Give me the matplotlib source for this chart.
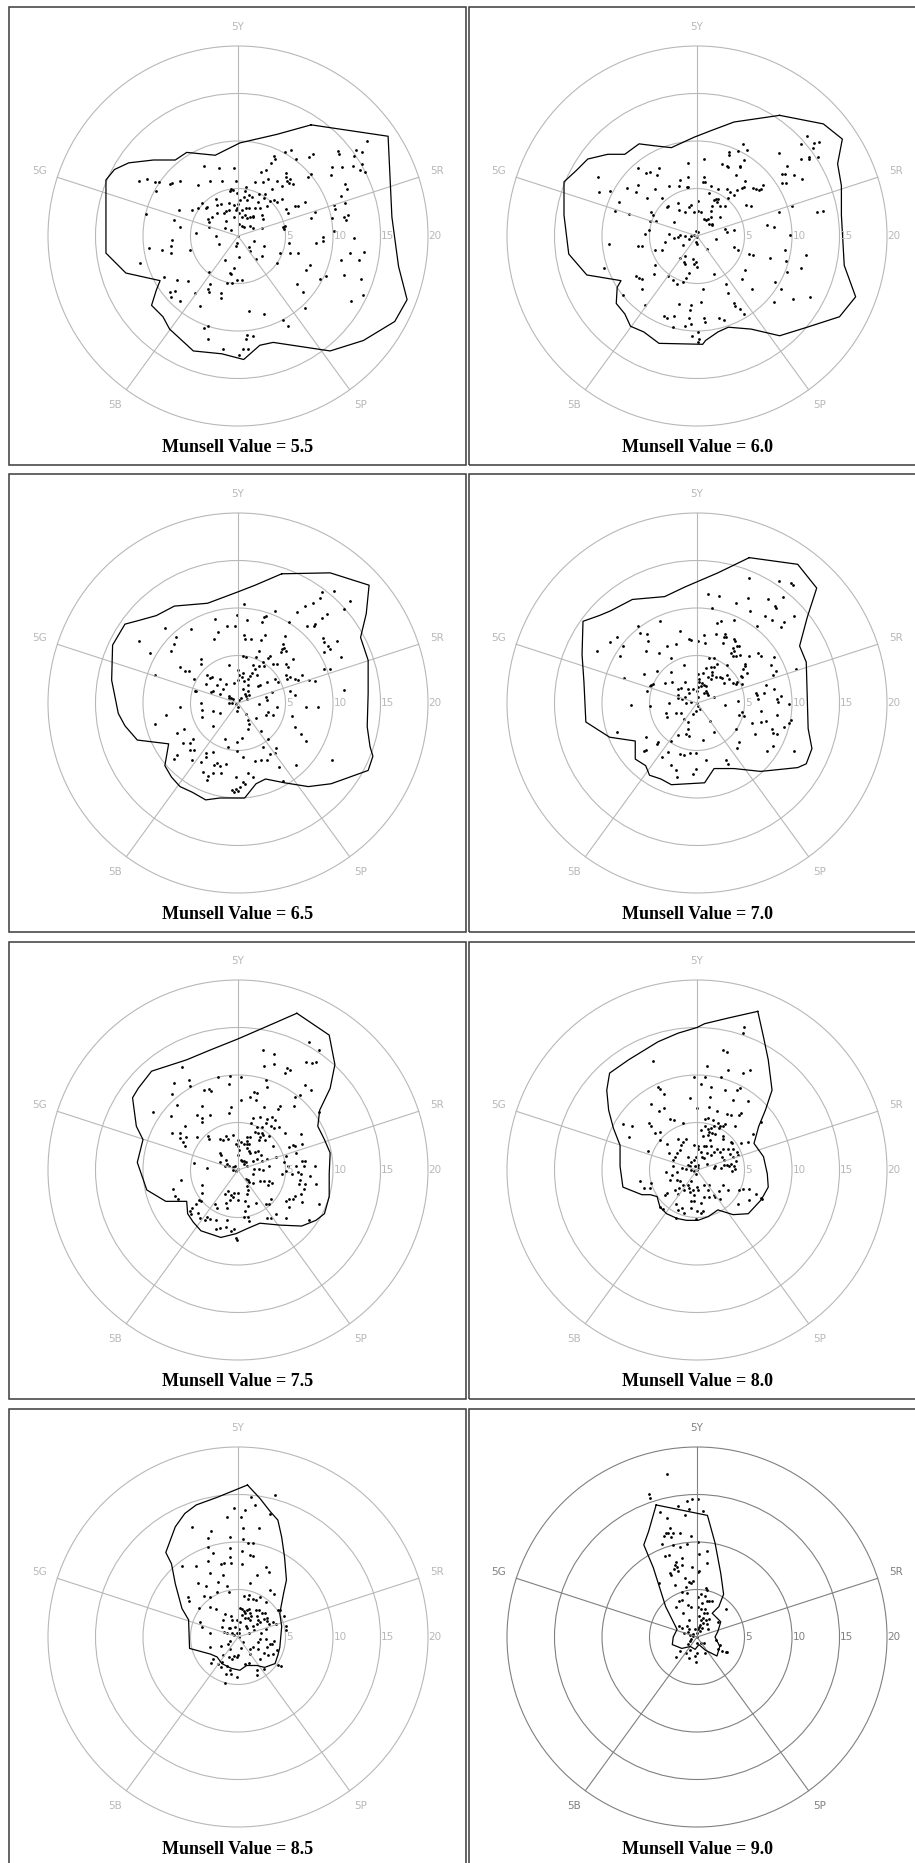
import numpy as np
import matplotlib.pyplot as plt
from matplotlib.patches import Rectangle, Circle

# Munsell value of each panel
values = [5.5, 6.0, 6.5, 7.0, 7.5, 8.0, 8.5, 9.0]
hue_labels = ['5R', '5Y', '5G', '5B', '5P']
hue_angles = [18, 90, 162, 234, 306]
chroma_rings = [5, 10, 15, 20]

# samples as (a, b) chroma coordinates, and the gamut boundary of each value
pts_55 = np.array([
    (13.6,10.0),(12.4,9.1),(13.0,8.8),(10.5,9.0),(10.6,8.6),(12.2,8.4),(5.6,9.1),(4.9,8.8),(7.9,8.6),(7.5,8.3),
    (3.8,8.4),(3.9,8.1),(3.5,7.7),(6.1,8.1),(2.9,6.9),(2.4,6.7),(9.9,7.3),(10.9,7.3),(12.1,7.4),(12.8,6.9),
    (13.1,7.6),(13.4,6.7),(5.0,6.6),(5.0,6.2),(5.2,5.8),(5.5,6.0),(5.8,5.5),(5.4,5.6),(7.7,6.5),(7.4,6.2),
    (9.8,6.4),(11.3,5.5),(11.5,5.0),(-3.6,7.4),(-2.0,7.2),(-0.4,7.2),(-10.4,5.8),(-9.6,6.0),(-8.7,5.7),(-8.3,5.7),
    (-7.2,5.5),(-7.0,5.6),(-6.1,5.8),(-4.2,5.4),(-2.9,5.8),(-1.7,5.8),(-0.2,5.8),(1.8,5.7),(2.6,5.7),(3.2,6.0),
    (4.1,5.8),(3.6,5.0),(4.6,5.3),(-0.7,4.9),(-0.5,4.8),(-0.8,4.7),(-0.1,4.5),(0.7,4.7),(0.8,5.2),(1.2,4.3),
    (1.5,4.1),(2.2,4.4),(2.8,4.4),(2.7,4.0),(-8.6,4.7),(-9.7,2.3),(-6.2,2.7),(-4.8,2.7),(-6.7,1.7),(-6.1,0.9),
    (-3.1,0.9),(-4.4,0.3),(-2.3,0.0),(-2.0,-0.8),(-6.9,-0.4),(-7.1,-1.1),(-7.1,-1.8),(-9.4,-1.3),(-8.0,-1.5),(-5.1,-1.5),
    (-10.3,-2.8),(-7.8,-4.3),(-6.4,-4.6),(-5.3,-4.7),(-7.2,-5.9),(-7.1,-6.4),(-6.1,-6.8),(-6.6,-5.8),(-4.5,-6.0),(-4.0,-7.4),
    (-3.1,-3.8),(-2.9,-5.1),(-3.2,-5.6),(-3.1,-5.9),(-1.8,-6.0),(-1.8,-6.5),(-1.2,-4.9),(-0.6,-4.9),(-0.1,-4.6),(0.4,-4.6),
    (-0.8,-3.9),(-0.4,-3.4),(-0.7,-4.0),(-1.4,-2.5),(0.1,-2.2),(1.2,-1.2),(1.7,-0.5),(2.7,-1.0),(2.5,-2.1),(1.9,-2.4),
    (1.3,-1.6),(-0.2,-1.1),(-0.1,-0.7),(4.1,-2.8),(4.4,-1.8),(4.7,0.9),(4.9,1.1),(5.4,-0.7),(5.5,-1.8),(6.3,-1.8),
    (6.2,-5.1),(6.8,-5.9),(7.1,-7.6),(7.6,-3.0),(7.2,-3.6),(8.2,-0.7),(8.9,-0.5),(7.7,1.9),(8.1,2.5),(9.9,1.9),
    (10.1,3.3),(10.2,2.8),(10.8,4.2),(11.3,3.5),(11.2,2.0),(11.6,2.2),(11.4,1.7),(10.1,0.5),(12.2,-0.2),(10.8,-2.5),
    (11.8,-1.8),(13.3,-1.7),(12.7,-2.5),(11.2,-4.1),(12.9,-4.5),(11.9,-6.8),(13.2,-6.2),(9.3,-4.2),(8.6,-4.5),(4.7,-8.8),
    (5.3,-9.5),(2.7,-8.2),(1.2,-7.9),(-3.2,-9.5),(-3.6,-9.7),(-3.2,-10.8),(-1.6,-11.9),(0.5,-11.9),(0.1,-12.5),(0.9,-10.4),
    (0.8,-10.8),(1.6,-10.5),(1.1,-11.9),(-3.2,1.8),(-3.1,1.5),(-2.7,2.0),(-2.2,3.3),(-1.8,3.4),(-2.3,3.9),(-3.8,3.5),
    (-3.3,3.1),(-4.2,2.9),(-3.4,3.0),(-1.3,2.6),(-1.0,2.7),(-0.1,2.9),(0.2,3.8),(0.6,4.1),(0.9,3.8),(1.2,3.0),
    (1.6,2.1),(1.8,3.0),(2.1,3.6),(2.3,3.0),(3.1,3.2),(3.4,3.7),(3.8,3.8),(4.1,3.6),(4.6,3.9),(5.0,2.8),
    (5.3,2.4),(6.0,3.2),(6.3,3.2),(7.0,3.6),(2.5,2.2),(2.6,1.8),(1.6,2.0),(0.7,2.2),(0.4,2.0),(0.9,1.9),
    (1.3,2.0),(0.1,1.3),(0.4,1.1),(0.6,1.0),(1.3,1.1),(1.6,0.8),(2.5,0.8),(-1.3,1.6),(-1.4,0.8),(-0.7,0.6),
    (-2.2,2.4),(-1.5,2.4),(-0.4,2.0),(-0.2,2.7),(0.1,2.4),(0.4,2.7),(0.8,3.0),(-0.9,3.5),(-0.4,3.3),(0.0,3.4),
    (4.8,0.7),(8.9,-0.1),(0.0,0.0)])
edge_55 = np.array([
    (7.7,11.7),(15.8,10.5),(16.2,2.0),(16.9,-3.2),(17.8,-6.7),(16.5,-9.0),(13.2,-11.0),(9.7,-12.1),(3.7,-11.2),(2.3,-11.5),
    (0.6,-13.0),(-1.7,-12.4),(-4.7,-12.1),(-7.2,-9.8),(-7.9,-8.5),(-9.1,-7.3),(-8.6,-5.7),(-8.2,-4.7),(-11.8,-3.9),(-13.9,-1.8),
    (-13.9,5.9),(-13.0,7.0),(-11.5,7.7),(-8.9,8.0),(-6.6,8.0),(-5.4,8.8),(-2.4,8.5),(0.2,9.8),(4.1,10.7)])

pts_60 = np.array([
    (11.6,10.5),(10.9,9.7),(12.3,9.8),(12.8,9.9),(12.2,9.3),(11.8,8.3),(11.8,8.1),(12.7,8.3),(10.9,8.1),(8.6,8.7),
    (9.5,7.4),(8.9,6.5),(9.3,6.5),(10.2,6.4),(11.1,6.0),(9.4,5.6),(8.9,5.6),(10.0,3.2),(12.6,2.5),(13.3,2.6),
    (11.5,-2.0),(10.9,-3.4),(11.9,-6.4),(10.1,-6.6),(8.8,-5.6),(8.2,-4.8),(8.1,-6.9),(9.5,-3.8),(9.4,-2.6),(9.3,-1.5),
    (9.8,0.1),(7.7,-2.3),(7.4,1.2),(8.1,1.0),(8.6,2.5),(6.9,5.4),(6.7,5.0),(6.5,4.8),(6.2,4.9),(5.9,5.1),
    (5.7,3.2),(5.2,3.3),(5.0,5.8),(4.9,5.2),(4.7,5.1),(4.2,4.8),(3.9,4.3),(3.3,4.0),(4.1,6.4),(4.5,7.3),
    (4.5,7.4),(4.9,8.0),(4.3,9.0),(4.8,9.7),(5.3,9.1),(3.4,8.8),(3.4,8.5),(3.2,7.4),(3.3,7.3),(2.6,7.6),
    (0.7,8.1),(0.7,6.2),(0.8,5.7),(1.5,5.3),(2.2,5.0),(3.2,4.9),(3.5,4.6),(2.9,3.2),(2.4,3.2),(2.1,3.6),
    (1.8,3.8),(2.0,3.9),(1.6,3.2),(1.5,2.6),(1.3,4.5),(0.6,5.7),(-0.9,7.7),(-1.0,6.2),(-1.1,5.2),(-0.9,5.2),
    (-1.9,5.3),(-1.8,5.9),(-2.9,5.3),(-3.7,4.0),(-4.4,5.0),(-4.0,7.2),(-4.2,6.4),(-4.9,6.7),(-5.4,6.6),(-6.2,7.2),
    (-6.2,5.4),(-6.4,4.6),(-7.4,5.1),(-8.2,3.6),(-9.2,4.7),(-10.3,4.6),(-10.4,6.2),(-8.6,2.6),(-7.2,2.3),(-5.3,4.0),
    (-4.8,2.5),(-4.6,2.2),(-4.3,1.6),(-4.9,1.6),(-5.1,0.6),(-5.5,0.2),(-9.3,-0.8),(-6.2,-1.1),(-5.8,-1.0),(-4.4,-1.5),
    (-3.7,-1.5),(-3.4,-0.6),(-2.9,0.2),(-2.4,-0.2),(-2.0,-0.1),(-1.8,0.1),(-1.3,0.0),(-1.5,-0.9),(-0.8,-0.3),(-0.6,0.0),
    (-0.3,0.1),(-0.1,0.5),(0.1,0.4),(0.0,-0.1),(-0.1,-0.6),(0.0,-0.8),(-2.4,1.5),(-3.1,3.2),(-3.2,3.1),(-2.0,3.5),
    (-1.9,2.7),(-1.3,2.5),(-0.8,3.1),(-0.6,3.3),(-0.3,2.5),(0.1,3.7),(0.1,2.6),(0.4,2.5),(0.7,1.8),(0.9,1.7),
    (1.2,1.8),(1.5,2.0),(1.6,1.2),(2.4,2.0),(1.6,1.3),(1.3,1.3),(2.2,3.9),(2.9,0.7),(3.2,0.4),(3.9,0.6),
    (2.0,-0.3),(1.1,-1.4),(3.9,-1.2),(4.3,-1.5),(5.5,-1.9),(5.9,-2.0),(5.1,-3.6),(4.7,-4.5),(3.0,-5.1),(3.3,-6.0),
    (3.9,-7.0),(4.0,-7.4),(4.5,-7.7),(4.9,-8.2),(5.8,-5.6),(1.8,-4.0),(0.6,-5.6),(0.4,-6.9),(-0.6,-7.3),(-0.7,-7.8),
    (-0.8,-8.6),(-1.3,-9.5),(-1.9,-7.2),(-2.4,-8.4),(-2.5,-9.6),(-3.2,-8.6),(-3.5,-8.4),(-0.6,-9.3),(0.7,-8.6),(0.8,-9.1),
    (2.3,-8.6),(2.8,-8.8),(-0.5,-10.5),(0.1,-10.1),(0.2,-10.8),(0.1,-11.2),(-4.5,-4.0),(-4.4,-3.1),(-5.8,-5.6),(-6.1,-4.4),
    (-6.4,-4.2),(-5.8,-4.5),(-9.8,-3.4),(-7.8,-6.2),(-5.5,-7.3),(-3.1,-4.2),(-2.5,-4.6),(-2.1,-5.1),(-1.5,-4.8),(-1.2,-4.4),
    (-0.8,-3.9),(-1.8,-2.3),(-1.4,-2.7),(-1.3,-2.9),(-1.3,-2.1),(-0.3,-2.9),(0.0,-3.3),(-0.1,-2.7),(-0.4,-2.4)])
edge_60 = np.array([
    (8.7,12.7),(13.3,11.8),(15.3,10.2),(14.8,7.6),(15.2,5.3),(15.2,2.2),(15.5,-3.1),(16.7,-6.4),(15.0,-8.5),(11.6,-9.6),
    (8.7,-10.5),(5.7,-9.8),(3.3,-9.6),(2.2,-10.1),(0.9,-11.0),(0.6,-11.4),(-4.0,-11.3),(-5.6,-10.1),(-7.0,-9.5),(-7.6,-8.2),
    (-8.5,-7.1),(-8.4,-5.4),(-8.0,-4.7),(-11.6,-4.1),(-13.5,-1.9),(-14.0,2.2),(-14.0,5.7),(-12.7,6.9),(-11.5,8.1),(-9.4,8.6),
    (-7.6,8.6),(-6.1,9.7),(-4.5,9.5),(-2.7,9.3),(-0.3,10.4),(1.5,11.1),(3.9,12.0)])

pts_65 = np.array([
    (10.1,11.8),(8.8,11.7),(8.6,11.1),(11.8,10.7),(7.9,10.5),(7.1,10.2),(6.2,9.6),(3.9,9.7),(11.2,9.9),(9.4,9.4),
    (8.8,9.0),(8.1,8.3),(8.0,8.1),(7.3,8.1),(5.4,8.5),(2.9,9.2),(2.7,9.1),(2.5,8.5),(0.9,8.7),(0.6,10.4),
    (-0.1,9.3),(-2.4,8.8),(-7.7,7.9),(-4.9,7.8),(-2.1,7.5),(-1.2,8.1),(-0.3,8.1),(-6.5,6.9),(-6.7,6.2),(-7.1,5.5),
    (-10.4,6.5),(-9.3,5.3),(-2.5,6.7),(0.6,7.2),(0.7,6.7),(1.4,6.7),(2.4,6.6),(2.8,7.2),(4.9,7.1),(4.7,6.2),
    (4.8,5.8),(5.0,5.5),(4.6,5.7),(4.5,5.4),(2.2,5.5),(3.4,4.9),(3.2,4.7),(0.5,5.0),(0.8,4.8),(1.9,4.8),
    (2.6,4.3),(5.8,4.6),(8.9,6.8),(9.0,6.4),(10.4,6.5),(9.5,6.0),(9.7,5.7),(9.1,5.4),(10.8,4.8),(9.0,3.6),
    (9.7,3.6),(-3.9,4.6),(-3.9,4.1),(-6.1,3.8),(-5.6,3.4),(-5.2,3.4),(-0.9,4.0),(-8.7,2.9),(-4.6,2.5),(-4.4,1.3),
    (-3.3,3.0),(-3.4,2.0),(-2.9,2.6),(-2.7,2.7),(-2.2,1.9),(-1.9,2.5),(-1.9,1.0),(-2.8,1.2),(-2.6,1.3),(-1.6,1.5),
    (-1.3,2.0),(-0.4,2.1),(0.1,2.9),(0.0,3.5),(0.5,3.2),(0.4,2.7),(0.0,2.4),(0.6,2.3),(1.0,2.5),(1.3,2.8),
    (1.5,3.2),(1.8,3.6),(2.2,3.9),(1.6,4.0),(2.7,3.9),(3.7,4.1),(4.1,4.1),(5.0,4.1),(5.3,3.8),(5.1,3.0),
    (5.5,2.7),(6.0,2.5),(6.3,2.4),(6.7,2.9),(5.2,2.5),(4.2,2.2),(3.9,2.5),(3.1,2.2),(2.0,2.9),(2.3,1.9),
    (2.1,1.8),(1.1,1.9),(0.5,1.5),(0.7,1.0),(1.1,1.3),(1.2,0.8),(0.8,0.7),(0.9,0.4),(0.3,0.5),(0.1,0.3),
    (-0.2,-0.1),(0.0,-0.4),(-0.1,-0.8),(-0.7,0.5),(-0.9,0.5),(-1.0,0.0),(-0.6,0.0),(-0.5,0.4),(-1.0,0.7),(2.9,0.6),
    (3.1,0.3),(3.6,1.2),(5.5,1.3),(6.0,0.8),(7.5,2.4),(8.1,2.3),(11.2,1.4),(7.2,-0.4),(8.4,-0.4),(5.7,-1.4),
    (6.0,-2.5),(6.6,-3.3),(7.2,-4.0),(4.1,-0.4),(3.7,-1.3),(2.9,-1.3),(3.2,-0.9),(2.2,-0.1),(1.9,-1.6),(1.1,-1.8),
    (0.8,-1.2),(1.2,-2.2),(1.1,-2.7),(2.4,-2.9),(3.2,-3.8),(2.6,-4.6),(4.0,-4.7),(3.9,-5.3),(3.4,-5.4),(3.1,-6.0),
    (2.4,-6.0),(1.8,-6.1),(6.1,-6.5),(4.3,-6.7),(4.7,-8.2),(9.9,-6.0),(0.4,-3.7),(-0.1,-4.1),(-1.1,-4.6),(-1.4,-3.8),
    (-2.6,-2.4),(-1.9,-1.0),(-2.6,-0.8),(-3.8,-0.7),(-3.8,-1.5),(-3.9,0.0),(-6.1,-0.4),(-7.6,-1.3),(-8.7,-2.2),(-5.7,-2.7),
    (-6.4,-3.2),(-5.8,-4.2),(-5.1,-4.2),(-4.7,-3.8),(-5.1,-4.9),(-4.8,-6.0),(-6.4,-5.5),(-6.7,-5.9),(-3.4,-5.3),(-2.6,-5.2),
    (-3.4,-5.7),(-3.9,-6.2),(-2.5,-6.5),(-2.2,-6.3),(-1.9,-6.6),(-3.7,-7.3),(-3.2,-7.7),(-3.3,-8.1),(-2.6,-7.4),(-1.3,-6.4),
    (-0.1,-5.1),(0.5,-5.7),(-0.2,-7.8),(0.5,-8.3),(0.7,-8.5),(1.1,-7.4),(1.6,-7.8),(0.2,-8.8),(-0.2,-9.1),(0.0,-9.3),
    (-0.4,-9.4),(-0.6,-9.2),(-1.8,-7.4),(-4.5,1.3),(-4.6,-4.9)])
edge_65 = np.array([
    (4.6,13.6),(9.7,13.7),(13.8,12.4),(13.5,9.4),(12.9,6.9),(13.7,4.5),(13.7,1.0),(13.6,-2.5),(13.9,-4.6),(14.2,-5.6),
    (13.7,-7.1),(11.2,-8.0),(9.8,-8.5),(7.4,-8.8),(4.9,-8.4),(2.9,-8.0),(1.9,-8.5),(0.7,-10.0),(-1.9,-10.0),(-3.4,-10.2),
    (-4.8,-9.4),(-6.1,-8.8),(-7.0,-7.8),(-7.7,-6.6),(-7.3,-4.3),(-10.6,-3.9),(-11.9,-2.4),(-12.6,-1.1),(-13.3,2.4),(-13.2,6.1),
    (-11.9,8.3),(-10.4,8.7),(-8.6,9.2),(-6.7,10.2),(-3.2,10.5),(0.0,11.7),(1.8,12.4)])

pts_70 = np.array([
    (5.5,13.2),(8.6,12.8),(9.9,12.6),(10.1,12.4),(1.2,11.5),(2.3,11.3),(4.1,10.5),(5.4,11.1),(7.5,10.9),(8.2,10.2),
    (8.3,10.0),(9.1,11.2),(5.6,9.7),(1.6,10.0),(7.2,9.2),(7.9,8.7),(10.2,9.2),(9.2,8.5),(8.8,8.0),(3.9,8.7),
    (2.1,8.4),(2.5,8.6),(6.3,8.1),(-3.9,8.6),(-6.2,8.1),(-1.8,7.6),(-0.8,6.7),(-0.6,6.6),(0.1,6.5),(0.7,7.2),
    (0.8,6.3),(2.0,7.3),(2.8,6.9),(2.7,6.3),(2.9,7.3),(3.0,7.0),(3.9,6.7),(4.0,6.5),(4.2,6.0),(3.8,5.8),
    (4.4,6.0),(3.9,5.5),(4.1,4.9),(3.8,5.0),(3.6,5.3),(4.5,5.1),(5.5,4.9),(6.4,5.3),(6.7,4.9),(8.1,4.8),
    (7.8,4.0),(8.3,3.4),(8.0,2.9),(10.4,3.6),(5.0,4.1),(5.1,3.9),(4.8,3.6),(5.3,3.2),(4.6,2.8),(4.2,2.2),
    (4.1,2.0),(4.7,2.0),(4.7,2.7),(-8.4,7.0),(-7.8,6.0),(-9.2,6.4),(-8.1,5.0),(-10.5,5.5),(-6.0,7.4),(-5.3,7.3),
    (-5.2,6.5),(-5.4,5.5),(-4.0,5.3),(-3.2,6.0),(-2.2,6.2),(-2.7,4.7),(-1.4,4.0),(-2.7,3.3),(-4.2,3.4),(-5.6,3.1),
    (-7.7,2.6),(-4.8,1.9),(-4.6,2.0),(-5.0,1.8),(-5.3,1.3),(-3.4,2.1),(-2.6,2.2),(-2.0,1.5),(-1.7,1.6),(-2.0,0.8),
    (-1.3,2.2),(-1.0,1.5),(-0.8,1.1),(-0.4,1.5),(0.0,1.3),(0.1,1.7),(0.4,1.8),(0.7,1.9),(0.9,1.8),(0.5,2.1),
    (0.2,2.2),(0.2,2.5),(0.1,3.1),(0.6,3.2),(0.9,3.7),(1.3,4.7),(1.8,4.7),(1.5,3.8),(1.8,3.8),(2.1,4.1),
    (1.6,3.3),(1.6,2.9),(1.2,2.7),(1.5,2.5),(2.0,2.7),(2.4,2.7),(2.6,2.6),(3.2,2.9),(3.4,2.5),(3.2,4.0),
    (2.8,2.1),(3.8,2.1),(0.9,1.3),(1.8,0.6),(1.2,0.8),(1.1,1.1),(0.7,1.1),(0.1,0.6),(0.0,0.0),(0.1,-0.3),
    (0.3,-0.6),(-0.1,-0.8),(-0.4,-1.2),(-0.6,0.1),(-1.3,0.6),(-1.2,0.0),(-1.6,0.4),(-2.0,0.5),(-3.0,0.0),(-5.0,-0.3),
    (-7.0,-0.2),(-2.2,-1.0),(-1.7,-1.1),(-3.3,-1.1),(-3.2,-1.5),(-1.4,-1.7),(-1.0,-2.0),(-0.9,-2.7),(-1.2,-3.3),(-2.0,-3.4),
    (-0.8,-3.5),(-2.7,-4.0),(-4.1,-4.1),(-4.2,-4.3),(-5.4,-3.6),(-5.4,-4.9),(-5.6,-5.1),(-8.4,-3.1),(-3.1,-5.2),(-3.7,-5.7),
    (-1.8,-5.4),(-1.4,-5.5),(-0.7,-5.3),(-0.1,-5.3),(0.6,-3.9),(0.9,-6.0),(1.8,-3.0),(1.4,-1.9),(2.9,-0.2),(4.3,0.2),
    (4.7,-0.9),(4.9,-1.4),(4.4,-1.3),(4.1,-2.7),(4.4,-4.1),(4.2,-4.7),(3.1,-6.0),(3.3,-6.4),(-2.7,-6.5),(-2.2,-7.1),
    (-2.1,-7.8),(-0.4,-7.5),(-0.1,-6.9),(5.8,-2.1),(6.1,-3.3),(6.7,-2.0),(7.3,-1.9),(7.4,-5.1),(8.0,-4.5),(7.9,-2.7),
    (8.0,-3.2),(8.4,-3.3),(8.4,-1.3),(9.2,-2.5),(9.7,-2.1),(9.9,-1.8),(10.2,-5.1),(6.7,-0.8),(6.4,0.4),(6.2,1.1),
    (6.3,0.8),(7.1,1.1),(7.3,1.9),(8.1,1.5),(8.4,0.4),(8.5,0.1),(8.8,0.7),(9.7,-0.1)])
edge_70 = np.array([
    (5.5,15.3),(10.6,14.6),(12.6,12.1),(11.6,9.0),(10.8,6.0),(11.5,4.3),(11.6,0.8),(11.7,-2.7),(12.1,-4.8),(11.5,-6.4),
    (10.6,-6.8),(6.7,-7.2),(3.9,-6.9),(1.8,-6.9),(0.8,-8.4),(-2.7,-8.6),(-3.8,-8.0),(-5.0,-7.6),(-5.4,-6.6),(-6.5,-5.9),
    (-6.5,-4.0),(-9.2,-3.6),(-11.7,-2.0),(-11.9,2.2),(-12.1,5.1),(-12.0,8.6),(-10.3,9.2),(-9.1,9.7),(-6.8,10.9),(-3.4,11.2),
    (-1.3,12.2),(2.2,13.7)])

pts_75 = np.array([
    (7.5,13.5),(8.5,12.6),(2.6,12.6),(3.8,12.2),(3.8,11.2),(2.7,11.0),(7.2,11.4),(7.8,11.3),(8.2,11.4),(5.2,10.7),
    (5.5,10.5),(4.9,10.2),(-5.9,10.8),(-6.7,9.2),(-5.2,9.5),(-5.1,8.8),(-6.9,8.0),(-3.6,8.4),(-3.1,8.5),(-2.8,8.3),
    (-2.1,9.8),(-0.8,9.9),(0.3,9.8),(-0.9,9.1),(2.9,9.5),(3.1,8.7),(1.7,8.2),(2.0,8.1),(1.3,7.7),(1.9,7.4),
    (0.3,7.4),(-0.7,6.6),(-0.9,6.0),(-3.8,6.7),(-4.3,5.8),(-3.8,5.5),(-3.8,5.1),(-3.0,5.8),(-6.4,6.8),(-7.1,5.7),
    (-9.0,6.1),(7.1,8.9),(7.7,8.4),(6.0,7.7),(6.5,7.9),(5.9,6.7),(4.4,6.7),(4.2,6.4),(2.7,6.6),(3.6,5.6),
    (3.9,5.3),(3.8,4.4),(4.3,4.5),(4.9,3.9),(6.6,3.8),(5.8,2.6),(5.4,2.4),(6.0,2.5),(6.1,1.8),(6.7,2.7),
    (8.5,6.1),(3.1,5.4),(2.9,5.0),(2.3,5.6),(1.6,5.5),(1.4,4.9),(2.0,4.5),(1.8,4.0),(2.1,3.9),(2.5,4.5),
    (2.5,3.9),(2.6,3.7),(2.3,3.5),(2.2,3.2),(2.8,3.2),(3.3,3.6),(3.5,4.6),(3.7,2.5),(1.3,3.5),(0.9,3.5),
    (0.9,3.1),(0.3,3.0),(0.0,3.2),(-0.5,3.7),(-1.3,3.6),(-1.1,3.3),(-1.6,3.2),(-1.9,3.3),(-0.2,2.7),(0.0,2.5),
    (0.1,2.1),(0.0,1.6),(0.6,2.7),(0.9,2.7),(1.2,2.7),(0.9,2.3),(1.2,2.0),(1.3,1.8),(1.8,1.9),(2.1,2.0),
    (2.4,1.6),(2.0,1.2),(1.6,1.0),(0.6,0.9),(0.4,0.9),(0.8,0.8),(-1.9,1.8),(-1.8,1.6),(-1.9,0.8),(-1.4,0.4),
    (-1.2,0.6),(-1.3,1.1),(-0.9,0.4),(-0.5,0.3),(-0.3,0.4),(-0.5,0.0),(-0.2,-0.1),(0.0,0.1),(0.3,1.1),(2.5,0.9),
    (3.0,1.2),(4.0,1.4),(5.0,1.5),(4.8,0.8),(5.3,0.4),(6.1,0.4),(6.7,0.9),(7.1,1.0),(6.9,0.4),(8.1,0.4),
    (6.3,-0.2),(6.6,-0.4),(5.7,-0.4),(5.0,-0.1),(4.6,-0.4),(3.3,0.4),(2.6,0.0),(2.2,0.1),(1.7,0.1),(1.6,-0.4),
    (0.9,0.4),(0.6,0.6),(-5.8,3.0),(-5.5,3.5),(-6.1,3.4),(-5.6,2.5),(-5.6,4.6),(-6.1,3.9),(-7.0,3.9),(-4.3,3.5),
    (-3.2,3.6),(-3.1,3.3),(-4.6,0.7),(-3.3,0.2),(-6.0,-1.1),(-6.8,-2.0),(-6.6,-2.7),(-6.3,-3.1),(-3.8,-1.6),(-3.8,-2.4),
    (-4.1,-3.2),(-3.9,-3.3),(-4.4,-3.6),(-4.8,-4.0),(-5.1,-4.3),(-4.9,-4.6),(-4.2,-4.5),(-4.0,-5.1),(-3.3,-4.9),(-3.5,-5.3),
    (-2.9,-5.2),(-2.3,-5.3),(-2.3,-6.2),(-1.9,-6.1),(-1.3,-6.0),(-0.7,-6.4),(-0.4,-6.2),(-0.2,-7.2),(-0.1,-7.4),(-1.2,-5.3),
    (-1.2,-4.0),(-0.8,-3.2),(-0.5,-2.8),(-0.4,-2.4),(0.0,-2.4),(-0.7,-2.6),(-1.1,-2.2),(-1.4,-2.5),(-1.3,-3.5),(0.0,-3.2),
    (0.7,-3.3),(0.9,-2.5),(1.1,-2.1),(-2.2,-4.0),(-2.4,-3.6),(0.7,-4.3),(1.0,-3.8),(0.6,-4.9),(1.1,-4.9),(1.2,-5.4),
    (0.8,-0.9),(1.1,-1.1),(1.2,-1.3),(0.9,-1.7),(1.6,-1.4),(2.3,-1.2),(2.7,-1.2),(3.3,-1.2),(3.2,-1.6),(3.6,-1.4),
    (1.9,-3.5),(2.9,-3.6),(3.3,-3.6),(3.5,-3.1),(3.0,-5.1),(3.5,-5.1),(4.0,-4.6),(5.0,-3.3),(5.4,-3.1),(5.8,-3.0),
    (6.0,-2.7),(5.4,-3.9),(5.1,-5.1),(6.5,-1.0),(6.4,-1.5),(6.6,-2.5),(6.9,-2.0),(7.0,-1.5),(6.7,-3.4),(7.5,-5.3),
    (8.5,-3.6),(8.2,-1.5),(7.6,-0.6)])
edge_75 = np.array([
    (6.2,16.5),(9.6,14.2),(10.2,11.1),(9.7,8.6),(8.6,6.3),(8.4,4.6),(9.1,3.2),(9.7,1.8),(9.6,-0.4),(9.6,-2.8),
    (9.1,-4.6),(8.2,-5.3),(6.7,-5.9),(4.4,-5.8),(2.3,-5.6),(0.9,-6.2),(-0.2,-6.7),(-1.8,-7.1),(-3.0,-6.7),(-3.9,-6.4),
    (-4.7,-5.5),(-5.3,-4.6),(-5.4,-3.3),(-7.6,-3.3),(-9.6,-2.1),(-10.6,0.8),(-10.0,3.2),(-10.7,4.6),(-11.1,7.6),(-10.5,8.6),
    (-9.1,10.4),(-5.4,11.6),(-3.0,12.6),(0.0,13.8),(3.0,15.1)])

pts_80 = np.array([
    (4.9,15.1),(4.8,14.4),(2.7,12.6),(3.2,12.4),(-4.6,11.5),(1.1,10.9),(3.3,10.5),(4.8,10.2),(5.6,10.5),(-0.3,9.8),
    (0.8,9.8),(2.5,9.8),(-4.1,8.7),(-3.9,8.5),(-3.5,8.0),(0.4,9.1),(1.5,8.7),(2.9,8.4),(4.2,8.4),(4.5,8.6),
    (-0.7,7.6),(1.4,7.7),(3.8,7.4),(5.4,7.3),(-4.8,7.0),(-3.5,6.5),(-4.0,6.2),(0.0,6.5),(1.3,6.6),(2.1,6.2),
    (3.2,5.9),(3.6,5.8),(4.4,5.8),(4.6,6.0),(6.7,5.1),(-2.8,5.4),(-2.4,5.3),(-1.5,5.0),(-5.1,4.9),(-4.8,4.6),
    (-7.8,4.8),(-6.8,4.6),(-7.2,3.5),(-4.4,3.9),(-3.9,4.0),(-3.9,3.2),(-5.2,2.0),(0.8,5.4),(1.2,5.5),(1.7,5.3),
    (2.2,5.0),(2.4,4.6),(2.9,4.8),(2.7,4.6),(4.0,4.6),(0.8,4.6),(1.2,4.3),(1.5,4.4),(1.8,4.6),(2.3,4.4),
    (0.4,4.2),(1.3,4.0),(1.6,3.9),(1.9,3.8),(1.2,3.7),(0.6,3.6),(1.4,3.2),(2.7,3.6),(2.7,3.3),(3.6,3.0),
    (3.7,2.8),(4.6,2.8),(5.9,3.8),(5.4,3.0),(-2.0,3.3),(-1.2,3.3),(-1.5,2.9),(-1.7,2.6),(-1.8,2.1),(-2.1,1.8),
    (-2.5,1.1),(-3.2,2.7),(-2.9,1.8),(-2.3,1.4),(-1.0,1.4),(-0.3,2.6),(0.1,2.5),(0.1,2.2),(0.4,1.9),(0.7,2.5),
    (0.9,2.5),(1.1,1.8),(1.5,1.6),(1.8,1.9),(1.5,2.5),(2.1,2.2),(2.4,1.9),(2.7,2.2),(3.3,2.2),(3.8,2.2),
    (4.2,1.9),(4.3,1.6),(3.5,1.7),(3.8,1.4),(4.1,0.9),(2.6,1.4),(2.8,1.1),(2.8,0.5),(3.2,0.5),(3.4,0.4),
    (3.6,0.6),(3.9,0.4),(4.0,0.1),(3.7,-0.1),(2.5,0.2),(1.9,0.4),(1.8,0.2),(1.1,0.6),(0.7,1.3),(0.5,1.4),
    (-0.1,1.4),(-0.3,1.1),(-0.6,0.8),(-0.7,0.4),(-0.9,0.5),(-0.2,0.4),(0.0,0.4),(0.1,0.2),(0.1,0.5),(0.0,0.0),
    (-0.1,-0.4),(-0.3,-0.1),(-0.6,0.0),(-1.2,0.1),(-1.6,0.2),(-2.1,-0.2),(-2.5,0.4),(-3.3,-0.2),(-2.6,-0.5),(-2.8,-1.1),
    (-2.1,-1.1),(-1.8,-1.2),(-1.5,-1.6),(-0.6,-1.2),(-0.9,-1.6),(-1.9,-1.9),(-2.0,-2.5),(-2.3,-2.1),(-1.4,-2.1),(-0.8,-1.9),
    (-0.7,-2.3),(-0.4,-2.1),(-0.3,-2.6),(0.1,-2.1),(0.7,-1.6),(1.2,-2.1),(1.3,-1.6),(1.8,-2.6),(2.3,-2.2),(2.7,-1.6),
    (3.3,-2.1),(4.4,-2.1),(4.3,-3.6),(4.8,-2.0),(5.5,-2.0),(6.2,-2.5),(6.7,-2.9),(6.8,-3.1),(5.5,-3.2),(2.4,-3.1),
    (1.9,-2.8),(1.3,-2.8),(0.7,-2.8),(0.4,-3.5),(-0.3,-3.3),(-0.6,-3.3),(-0.6,-4.0),(0.0,-4.3),(0.4,-4.5),(0.6,-4.3),
    (-0.1,-5.2),(-2.2,-3.6),(-2.0,-4.2),(-1.6,-4.0),(-1.4,-4.5),(-2.2,-5.1),(-3.2,-2.4),(-3.4,-2.6),(-3.9,-3.9),(-3.6,-4.1),
    (-4.8,-1.4),(-5.0,-1.9),(-5.6,-1.9),(-6.0,-1.2),(0.0,-1.8)])
edge_80 = np.array([
    (6.4,16.7),(7.0,14.0),(7.5,11.6),(7.9,8.4),(7.2,6.3),(6.5,4.6),(6.0,2.8),(7.0,1.4),(7.4,-0.4),(7.5,-1.8),
    (7.0,-2.7),(6.7,-3.2),(5.4,-4.6),(3.8,-4.7),(2.2,-4.2),(1.2,-4.9),(0.1,-5.3),(-1.1,-5.3),(-2.1,-5.1),(-3.2,-4.6),
    (-3.9,-3.9),(-4.2,-2.8),(-4.9,-2.6),(-5.8,-2.6),(-7.8,-1.8),(-8.1,0.4),(-8.1,2.6),(-8.8,4.4),(-9.3,6.3),(-9.5,8.4),
    (-9.2,10.2),(-7.2,11.6),(-4.1,13.5),(-2.0,14.4),(0.0,15.0),(0.8,15.4),(3.3,16.0)])

pts_85 = np.array([
    (3.9,15.0),(1.4,14.7),(1.8,13.9),(0.7,13.4),(-0.4,13.6),(3.4,13.0),(-1.2,12.6),(0.3,12.6),(-4.8,11.6),(-2.8,11.2),
    (0.5,11.5),(2.2,11.5),(-3.2,10.4),(-0.8,10.5),(0.5,10.3),(1.0,9.9),(1.6,9.9),(-3.2,9.5),(-0.8,9.4),(0.4,9.1),
    (-2.6,8.8),(1.3,8.6),(1.6,8.5),(-0.8,8.4),(-0.7,7.8),(-1.8,7.7),(-1.5,7.8),(0.4,7.7),(-5.9,7.5),(-4.4,7.5),
    (-3.2,8.0),(2.9,7.4),(3.3,6.8),(-2.9,6.7),(-1.6,6.5),(2.0,6.5),(-4.2,5.7),(-3.4,5.4),(-2.1,5.8),(-1.2,5.4),
    (1.3,5.7),(-5.3,4.2),(-5.2,3.8),(-3.6,4.3),(-2.9,4.2),(-2.2,4.7),(-0.9,4.7),(3.4,5.0),(3.8,4.5),(-4.1,3.1),
    (-3.0,3.2),(-2.3,2.9),(0.6,4.3),(1.2,4.4),(1.1,4.0),(1.6,4.0),(1.9,3.9),(2.3,4.2),(2.9,3.7),(0.2,3.1),
    (0.4,2.9),(0.6,2.7),(0.9,2.8),(1.2,3.0),(1.3,2.5),(0.7,2.5),(1.4,2.2),(1.9,2.8),(2.2,2.8),(2.5,2.5),
    (2.0,2.2),(2.8,2.5),(3.0,2.0),(2.7,1.9),(2.3,1.6),(2.1,1.8),(2.0,1.4),(1.6,1.2),(1.3,1.8),(1.0,2.0),
    (0.7,2.0),(0.4,2.3),(0.2,1.6),(-0.1,1.8),(-0.6,1.8),(-0.7,2.2),(-1.4,2.4),(-1.6,1.8),(-0.3,1.1),(0.1,0.8),
    (-0.1,0.4),(0.1,0.4),(0.1,0.0),(-0.8,0.9),(-1.0,1.0),(-1.7,1.1),(-1.5,0.5),(-1.2,0.4),(-0.6,0.4),(-0.4,0.2),
    (0.8,1.2),(0.9,1.0),(1.2,0.4),(1.7,0.7),(2.4,0.4),(2.9,0.8),(3.0,1.7),(3.3,1.4),(3.7,1.6),(4.0,1.4),
    (4.2,2.8),(4.4,2.8),(4.8,2.2),(5.1,1.2),(5.0,0.7),(3.8,-0.4),(3.4,-0.7),(3.0,-1.1),(2.3,-0.2),(2.1,-0.5),
    (2.9,-0.2),(2.7,-1.7),(2.1,-1.3),(2.3,-2.3),(3.2,-1.9),(3.7,-1.8),(3.6,-0.7),(4.2,-2.9),(4.5,-3.0),(4.1,-1.4),
    (1.6,-1.1),(1.3,-1.3),(1.3,-1.8),(0.5,-0.5),(0.3,-1.2),(-0.8,-0.4),(-1.1,-0.7),(-1.8,-0.9),(-2.9,-1.0),(-4.0,1.6),
    (-3.8,1.1),(-3.0,0.4),(-0.8,-1.3),(-1.0,-2.1),(-0.4,-2.0),(-0.1,-2.1),(0.0,-1.9),(-0.6,-2.3),(-1.6,-1.9),(-1.7,-2.6),
    (-2.1,-2.8),(-2.6,-2.3),(-2.8,-2.7),(-1.8,-3.2),(-1.2,-3.1),(-0.8,-3.5),(-1.3,-3.9),(-0.7,-3.9),(-0.1,-4.2),(0.7,-2.8),
    (1.2,-2.7),(2.0,-3.5),(2.0,-4.0),(2.7,-3.4),(-1.4,-4.8)])
edge_85 = np.array([
    (1.0,16.0),(2.3,14.6),(3.4,13.2),(4.2,12.3),(4.6,10.5),(4.9,8.4),(5.1,6.0),(4.8,4.6),(4.4,2.5),(4.6,1.1),
    (4.4,-1.1),(4.2,-1.9),(3.9,-2.8),(2.8,-3.2),(2.0,-3.0),(0.9,-3.0),(0.2,-3.5),(-0.7,-3.3),(-1.7,-2.8),(-2.2,-2.1),
    (-2.9,-1.8),(-5.1,-1.2),(-5.2,1.8),(-5.9,3.0),(-6.6,5.6),(-7.0,7.7),(-7.6,8.9),(-6.6,11.6),(-5.6,13.0),(-4.4,13.9),
    (-2.2,14.7)])

pts_90 = np.array([
    (-3.2,17.2),(-5.1,15.1),(-5.0,14.6),(-3.9,13.2),(-2.0,13.8),(-1.1,14.3),(-0.5,14.5),(0.1,14.5),(-0.8,13.5),(-1.3,12.8),
    (0.6,13.3),(-3.2,12.5),(-2.8,11.5),(-3.1,11.0),(-3.3,10.9),(-3.5,10.6),(-2.5,10.9),(-1.8,10.9),(-0.6,10.6),(-2.7,10.5),
    (-3.7,9.8),(-2.5,9.7),(-1.8,9.5),(-1.1,9.8),(0.1,10.0),(1.1,9.1),(0.2,8.7),(1.0,7.8),(-3.4,8.5),(-2.9,8.6),
    (-2.2,7.9),(-2.3,7.6),(-2.1,7.4),(-2.4,7.2),(-2.0,7.0),(-2.8,6.7),(-2.7,6.5),(-1.6,8.3),(-1.6,7.6),(-0.5,7.4),
    (0.2,7.0),(0.1,6.8),(-1.3,6.2),(-0.8,5.8),(-0.6,5.7),(-0.4,5.9),(-4.0,5.7),(-2.3,5.5),(-1.2,5.3),(0.9,5.2),
    (1.1,5.0),(0.8,4.3),(0.4,4.5),(0.1,4.2),(1.1,3.8),(1.3,3.8),(1.6,3.8),(-1.6,4.7),(-1.6,3.9),(-1.9,3.8),
    (-1.1,4.6),(-0.9,3.4),(-2.2,3.2),(-1.5,2.5),(-0.6,3.2),(0.1,3.2),(0.4,2.9),(0.7,2.5),(1.1,2.5),(0.9,1.8),
    (1.3,1.9),(0.2,2.2),(0.4,1.8),(0.6,1.5),(0.2,1.1),(-0.2,0.8),(0.0,0.4),(-0.4,0.3),(0.1,0.8),(1.2,0.8),
    (2.2,1.6),(3.1,2.9),(-0.8,1.8),(-1.1,1.2),(-0.8,0.8),(-0.9,0.5),(-1.6,0.9),(-1.9,1.2),(-1.4,0.4),(-0.7,0.2),
    (0.0,0.0),(-0.4,0.1),(-0.7,-0.4),(-0.9,-0.7),(-0.6,-0.2),(0.0,-0.6),(0.4,-0.6),(0.7,-0.6),(2.0,-0.3),(2.4,-0.8),
    (2.2,-1.3),(2.6,-1.5),(3.0,-1.6),(3.2,-1.6),(-0.7,-1.4),(-1.2,-1.7),(-0.8,-2.2),(-0.1,-2.6),(0.0,-1.7),(-2.2,-2.1),
    (-1.8,-1.5),(0.8,-1.7),(-0.2,-2.0),(0.3,1.3),(0.5,1.0),(0.3,0.6),(0.6,2.0),(0.8,3.0),(0.5,3.6),(1.0,1.4)])
edge_90 = np.array([
    (-4.3,13.9),(1.1,12.8),(1.9,9.9),(2.5,6.7),(2.8,4.5),(2.3,3.2),(1.6,2.5),(2.5,1.6),(2.2,0.6),(1.9,0.0),
    (2.4,-1.0),(2.1,-2.0),(0.9,-1.4),(0.2,-0.8),(-0.2,-1.3),(-0.7,-1.0),(-1.6,-1.2),(-2.6,-0.8),(-2.5,0.0),(-2.1,0.8),
    (-3.3,3.2),(-4.6,7.3),(-5.6,9.7),(-5.1,11.1)])

samples = [pts_55, pts_60, pts_65, pts_70, pts_75, pts_80, pts_85, pts_90]
edges = [edge_55, edge_60, edge_65, edge_70, edge_75, edge_80, edge_85, edge_90]

W, H = 915, 1863
fig = plt.figure(figsize=(W / 100, H / 100), dpi=100)

# panel layout in pixels
centers_x = [238, 697]
centers_y = [236, 703, 1170, 1637]
box_x = [(9, 466), (469, 930)]
box_y = [(7, 465), (474, 932), (942, 1399), (1409, 1875)]
half = 228          # half size of each axes box, px
lim = 24            # chroma units across half the box  -> 9.5 px per unit

for i, v in enumerate(values):
    row, col = divmod(i, 2)
    cx, cy = centers_x[col], centers_y[row]

    x0, x1 = box_x[col]
    y0, y1 = box_y[row]
    fig.add_artist(Rectangle((x0 / W, 1 - y1 / H), (x1 - x0) / W, (y1 - y0) / H,
                             transform=fig.transFigure, fill=False, ec='#3a3a3a', lw=1.1))

    ax = fig.add_axes([(cx - half) / W, 1 - (cy + half) / H, 2 * half / W, 2 * half / H])
    ax.set_xlim(-lim, lim)
    ax.set_ylim(-lim, lim)
    ax.set_aspect('equal')
    ax.axis('off')

    gc = '#808080' if v == 9.0 else '#b8b8b8'
    for r in chroma_rings:
        ax.add_patch(Circle((0, 0), r, fill=False, ec=gc, lw=0.8))
        ax.text(r + 0.05, 0, str(r), ha='left', va='center', color=gc, fontsize=7.5)
    for a, lab in zip(hue_angles, hue_labels):
        t = np.deg2rad(a)
        ax.plot([0, 20 * np.cos(t)], [0, 20 * np.sin(t)], color=gc, lw=0.8)
        ax.text(22 * np.cos(t), 22 * np.sin(t), lab, ha='center', va='center', color=gc, fontsize=7.5)

    e = np.vstack([edges[i], edges[i][:1]])
    ax.plot(e[:, 0], e[:, 1], color='black', lw=0.9)
    p = samples[i]
    ax.scatter(p[:, 0], p[:, 1], s=4, c='black', marker='o', linewidths=0)

    fig.text(cx / W, 1 - (cy + 212) / H, 'Munsell Value = %.1f' % v, ha='center', va='center',
             family='Liberation Serif', weight='bold', fontsize=13)

fig.savefig('out.png', dpi=100)
